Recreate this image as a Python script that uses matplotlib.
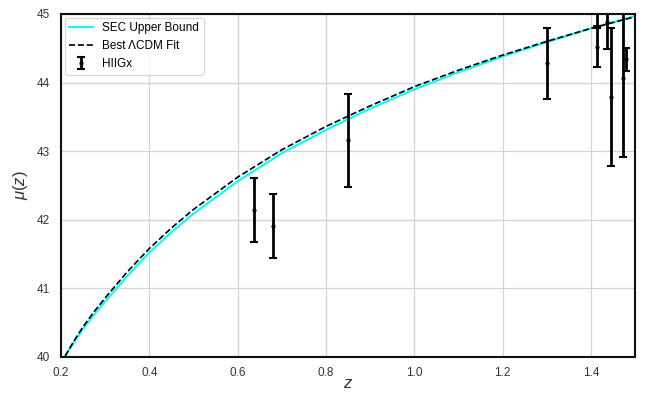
import numpy as np
import matplotlib
matplotlib.use("Agg")
import matplotlib.pyplot as plt

plt.rcParams["font.family"] = ["Liberation Sans", "DejaVu Sans"]
plt.rcParams["mathtext.fontset"] = "custom"
plt.rcParams["mathtext.it"] = "Liberation Sans:italic"
plt.rcParams["mathtext.rm"] = "Liberation Sans"

# model curves
z_curve = [0.20, 0.21, 0.23, 0.25, 0.275, 0.30, 0.35, 0.40, 0.45, 0.50,
           0.60, 0.70, 0.80, 0.90, 1.00, 1.10, 1.20, 1.30, 1.40, 1.50]
mu_lcdm = [39.90, 40.02, 40.24, 40.44, 40.66, 40.86, 41.24, 41.58, 41.88, 42.15,
           42.62, 43.02, 43.36, 43.66, 43.94, 44.18, 44.40, 44.60, 44.79, 44.96]
mu_sec = [39.90, 40.02, 40.22, 40.41, 40.62, 40.81, 41.18, 41.52, 41.82, 42.09,
          42.56, 42.97, 43.31, 43.62, 43.90, 44.15, 44.38, 44.59, 44.79, 44.97]

# HIIGx distance moduli
z_obs = [0.636, 0.680, 0.849, 1.301, 1.413, 1.413, 1.437, 1.445, 1.473, 1.479]
mu_obs = [42.14, 41.91, 43.16, 44.28, 44.52, 45.25, 44.89, 43.79, 44.06, 44.34]
mu_err = [0.47, 0.46, 0.68, 0.52, 0.30, 0.45, 0.40, 1.01, 1.15, 0.17]

fig, ax = plt.subplots(figsize=(6.46, 3.94), dpi=100)
fig.subplots_adjust(left=0.0944, right=0.983, bottom=0.094, top=0.9645)

ax.plot(z_curve, mu_sec, color="cyan", linewidth=1.5, label="SEC Upper Bound")
ax.plot(z_curve, mu_lcdm, color="black", linestyle="--", linewidth=1.2,
        label="Best ΛCDM Fit")
ax.errorbar(z_obs, mu_obs, yerr=mu_err, fmt=".", color="black", ecolor="black",
            elinewidth=2, capsize=3, capthick=1.5, markersize=4, label="HIIGx")

ax.set_xlim(0.2, 1.5)
ax.set_ylim(40, 45)
ax.set_xticks([0.2, 0.4, 0.6, 0.8, 1.0, 1.2, 1.4])
ax.set_yticks([40, 41, 42, 43, 44, 45])
ax.set_xticklabels(["0.2", "0.4", "0.6", "0.8", "1.0", "1.2", "1.4"])
ax.tick_params(axis="x", length=0, labelsize=8.5, colors="#333333", pad=7)
ax.tick_params(axis="y", length=0, labelsize=8.5, colors="#333333", pad=8)
ax.grid(True, color="#d4d4d4", linewidth=0.9)
ax.set_axisbelow(True)
for s in ax.spines.values():
    s.set_color("#111111")
    s.set_linewidth(1.5)

ax.set_xlabel("$z$", fontsize=12, color="#333333", labelpad=-2)
ax.set_ylabel(r"$\mu(z)$", fontsize=12, color="#333333", labelpad=5)

leg = ax.legend(loc="upper left", fontsize=8.5, frameon=True, fancybox=True,
                edgecolor="#cccccc", handlelength=2.0, borderaxespad=0.3)
leg.get_frame().set_linewidth(0.8)

fig.savefig("out.png", dpi=100)
